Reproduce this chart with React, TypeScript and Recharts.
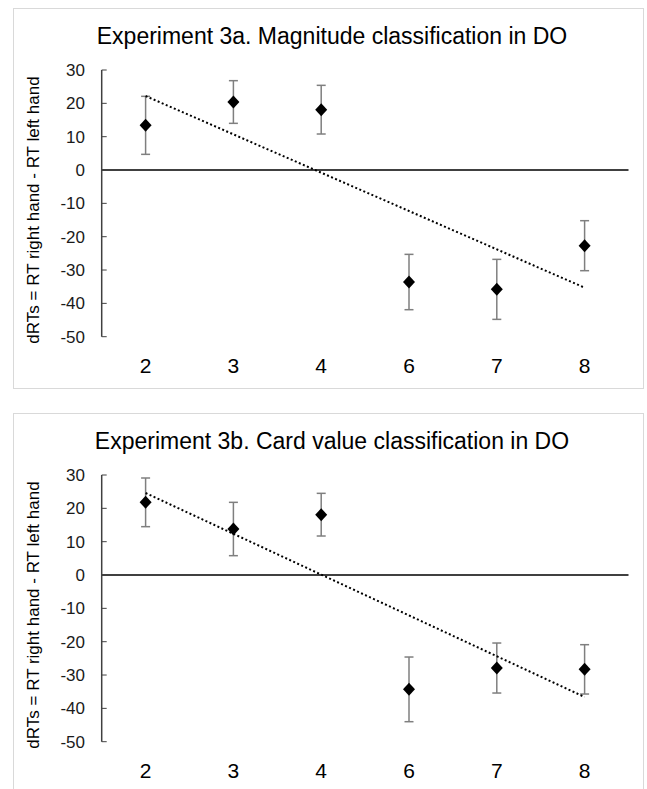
import React from 'react'
import {
    ComposedChart,
    Line,
    XAxis,
    YAxis,
    ErrorBar,
    ReferenceLine
} from 'recharts'

// number shown on the card / digit
const categories = ['2', '3', '4', '6', '7', '8']

// Experiment 3a: magnitude classification
const magnitudeMeans = [13.4, 20.4, 18.1, -33.6, -35.8, -22.7]
const magnitudeErrors = [8.7, 6.4, 7.3, 8.3, 9.0, 7.5]
const magnitudeTrend = [22.2, null, null, null, null, -35.3]

// Experiment 3b: card value classification
const cardMeans = [21.8, 13.8, 18.1, -34.3, -27.9, -28.3]
const cardErrors = [7.3, 8.0, 6.4, 9.7, 7.5, 7.4]
const cardTrend = [24.6, null, null, null, null, -36.6]

const yTicks = [-50, -40, -30, -20, -10, 0, 10, 20, 30]

const FONT = '"Liberation Sans", Arial, sans-serif'
const CHART_W = 631
const CHART_H = 381
const Y_LABEL = 'dRTs = RT right hand - RT left hand'

function buildRows(means: number[], errors: number[], trend: (number | null)[]) {
    return categories.map((label, i) => ({
        label,
        mean: means[i],
        err: errors[i],
        trend: trend[i]
    }))
}

/** Filled black diamond like the Excel marker */
function Diamond(props: any) {
    const { cx, cy } = props
    if (cx == null || cy == null) return null
    return (
        <polygon
            points={`${cx},${cy - 6.5} ${cx + 6},${cy} ${cx},${cy + 6.5} ${cx - 6},${cy}`}
            fill="#000"
        />
    )
}

function YLabel() {
    const cx = 20
    const cy = 202
    return (
        <text
            x={cx}
            y={cy}
            transform={`rotate(-90, ${cx}, ${cy})`}
            textAnchor="middle"
            dominantBaseline="central"
            fontSize={17}
            fontFamily={FONT}
            fill="#000"
        >
            {Y_LABEL}
        </text>
    )
}

interface PanelProps {
    title: string
    top: number
    rows: ReturnType<typeof buildRows>
}

function Panel({ title, top, rows }: PanelProps) {
    return (
        <div
            style={{
                position: 'absolute',
                left: 13,
                top,
                width: CHART_W,
                height: CHART_H,
                border: '1px solid #d9d9d9',
                boxSizing: 'border-box',
                background: '#fff'
            }}
        >
            <div
                style={{
                    position: 'absolute',
                    left: 0,
                    top: 16,
                    width: 636,
                    textAlign: 'center',
                    fontFamily: FONT,
                    fontSize: 23,
                    lineHeight: '23px',
                    color: '#000',
                    whiteSpace: 'nowrap'
                }}
            >
                {title}
            </div>
            <div style={{ position: 'absolute', left: -1, top: -1 }}>
                <ComposedChart
                    width={CHART_W}
                    height={CHART_H}
                    data={rows}
                    margin={{ top: 62, right: 15.5, bottom: 12.3, left: 0 }}
                >
                    <XAxis
                        dataKey="label"
                        scale="band"
                        axisLine={false}
                        tickLine={false}
                        height={40}
                        tickMargin={15.5}
                        tick={{ fontSize: 21, fill: '#000', fontFamily: FONT }}
                        interval={0}
                    />
                    <YAxis
                        type="number"
                        domain={[-50, 30]}
                        ticks={yTicks}
                        interval={0}
                        width={88.7}
                        axisLine={{ stroke: '#404040', strokeWidth: 1.5 }}
                        tickLine={{ stroke: '#404040', strokeWidth: 1 }}
                        tickSize={-5}
                        tickMargin={21.7}
                        tick={{ fontSize: 17, fill: '#1a1a1a', fontFamily: FONT }}
                        label={{ content: () => <YLabel /> }}
                    />
                    <ReferenceLine y={0} stroke="#000" strokeWidth={1.5} />
                    <Line
                        dataKey="mean"
                        stroke="none"
                        dot={<Diamond />}
                        activeDot={false}
                        isAnimationActive={false}
                    >
                        <ErrorBar
                            dataKey="err"
                            direction="y"
                            width={4.5}
                            stroke="#7f7f7f"
                            strokeWidth={1.5}
                            isAnimationActive={false}
                        />
                    </Line>
                    <Line
                        dataKey="trend"
                        connectNulls
                        stroke="#000"
                        strokeWidth={2}
                        strokeDasharray="2 2.4"
                        dot={false}
                        activeDot={false}
                        isAnimationActive={false}
                    />
                </ComposedChart>
            </div>
        </div>
    )
}

export default function App() {
    return (
        <div
            style={{
                position: 'absolute',
                left: 0,
                top: 0,
                width: 647,
                height: 789,
                overflow: 'hidden',
                background: '#fff'
            }}
        >
            <Panel
                title="Experiment 3a. Magnitude classification in DO"
                top={8}
                rows={buildRows(magnitudeMeans, magnitudeErrors, magnitudeTrend)}
            />
            <Panel
                title="Experiment 3b. Card value classification in DO"
                top={413}
                rows={buildRows(cardMeans, cardErrors, cardTrend)}
            />
        </div>
    )
}
